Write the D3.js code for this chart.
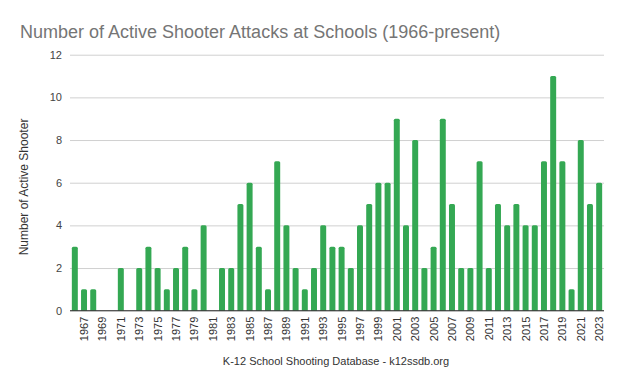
<!DOCTYPE html>
<html>
<head>
<meta charset="utf-8">
<script src="https://cdn.jsdelivr.net/npm/d3@7"></script>
<style>
  body { margin: 0; background: #fff; }
  text { font-family: Arial, "Liberation Sans", sans-serif; }
</style>
</head>
<body>
<script>
// data
var years = d3.range(1966, 2024);
var attacks = [3, 1, 1, 0, 0, 2, 0, 2, 3, 2,
               1, 2, 3, 1, 4, 0, 2, 2, 5, 6,
               3, 1, 7, 4, 2, 1, 2, 4, 3, 3,
               2, 4, 5, 6, 6, 9, 4, 8, 2, 3,
               9, 5, 2, 2, 7, 2, 5, 4, 5, 4,
               4, 7, 11, 7, 1, 8, 5, 6];
var yTicks = [0, 2, 4, 6, 8, 10, 12];
var xTickYears = years.filter(function(y) { return y % 2 == 1; });

var width = 624, height = 387;
var plotLeft = 70, plotRight = 604, plotTop = 54.7, plotBottom = 310.7;

var svg = d3.select("body").append("svg")
  .attr("width", width)
  .attr("height", height);

var x = d3.scaleBand()
  .domain(years)
  .range([plotLeft, plotRight])
  .paddingInner(0.35)
  .paddingOuter(0.2);

var y = d3.scaleLinear()
  .domain([0, 12])
  .range([plotBottom, plotTop]);

// gridlines + y labels
var yAxis = svg.append("g")
  .attr("transform", "translate(" + plotLeft + ",0)")
  .call(d3.axisLeft(y).tickValues(yTicks).tickSize(-(plotRight - plotLeft)).tickPadding(8));
yAxis.select(".domain").remove();
yAxis.selectAll(".tick line").attr("stroke", "#d0d0d0");
yAxis.selectAll(".tick text")
  .attr("fill", "#444")
  .style("font-size", "11px");

// bars with rounded tops
var r = 1.5;
svg.append("g").selectAll("path")
  .data(years.map(function(yr, i) { return {year: yr, value: attacks[i]}; })
    .filter(function(d) { return d.value > 0; }))
  .enter()
  .append("path")
  .attr("fill", "#34a853")
  .attr("d", function(d) {
    var x0 = x(d.year), w = x.bandwidth(), y0 = y(d.value), y1 = y(0);
    return "M" + x0 + "," + y1 +
      "V" + (y0 + r) +
      "Q" + x0 + "," + y0 + " " + (x0 + r) + "," + y0 +
      "H" + (x0 + w - r) +
      "Q" + (x0 + w) + "," + y0 + " " + (x0 + w) + "," + (y0 + r) +
      "V" + y1 + "Z";
  });

// baseline
svg.append("line")
  .attr("x1", plotLeft).attr("x2", plotRight)
  .attr("y1", y(0)).attr("y2", y(0))
  .attr("stroke", "#333")
  .attr("stroke-width", 1);

// x labels, rotated
svg.append("g").selectAll("text")
  .data(xTickYears)
  .enter()
  .append("text")
  .attr("transform", function(d) {
    return "translate(" + (x(d) + x.bandwidth() / 2 + 4) + "," + (plotBottom + 6) + ") rotate(-90)";
  })
  .attr("text-anchor", "end")
  .attr("fill", "#333")
  .style("font-size", "11px")
  .text(function(d) { return d; });

// title
svg.append("text")
  .attr("x", 20)
  .attr("y", 38)
  .attr("fill", "#757575")
  .style("font-size", "18px")
  .text("Number of Active Shooter Attacks at Schools (1966-present)");

// y axis title
svg.append("text")
  .attr("transform", "translate(28,187) rotate(-90)")
  .attr("text-anchor", "middle")
  .attr("fill", "#333")
  .style("font-size", "12px")
  .text("Number of Active Shooter");

// x axis caption
svg.append("text")
  .attr("x", 336)
  .attr("y", 365)
  .attr("text-anchor", "middle")
  .attr("fill", "#333")
  .style("font-size", "11px")
  .text("K-12 School Shooting Database - k12ssdb.org");
</script>
</body>
</html>
